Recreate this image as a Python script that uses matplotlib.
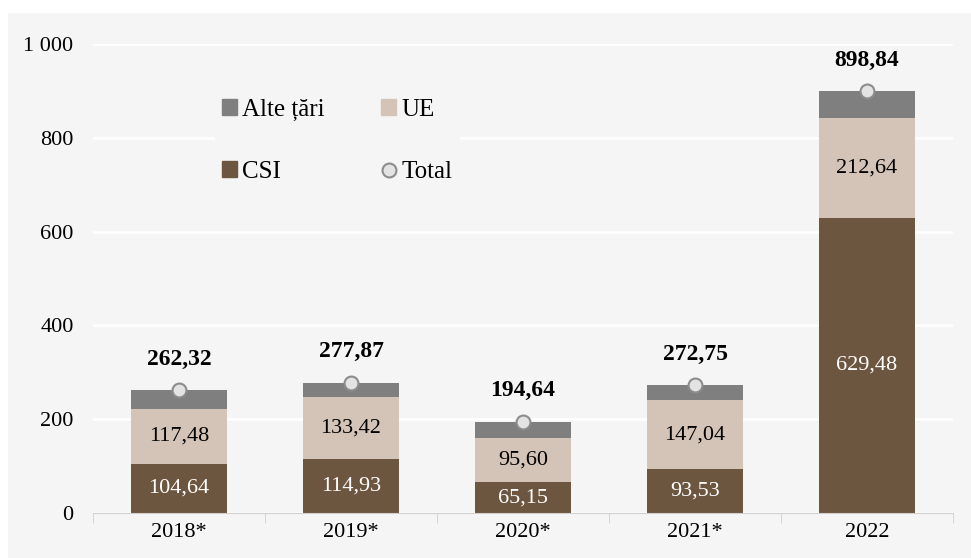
import matplotlib.pyplot as plt
from matplotlib.patches import Rectangle
from matplotlib.lines import Line2D
from matplotlib.ticker import FuncFormatter
import numpy as np

years = ["2018*", "2019*", "2020*", "2021*", "2022"]
csi = [104.64, 114.93, 65.15, 93.53, 629.48]
ue = [117.48, 133.42, 95.60, 147.04, 212.64]
total = [262.32, 277.87, 194.64, 272.75, 898.84]
alte = [t - c - u for t, c, u in zip(total, csi, ue)]

c_csi = "#6d5640"
c_ue = "#d3c4b7"
c_alte = "#7f7f7f"
panel = "#f5f5f5"

plt.rcParams["font.family"] = ["Liberation Serif", "DejaVu Serif"]

fig = plt.figure(figsize=(9.71, 5.58), dpi=100)
fig.patches.append(Rectangle((8 / 971, 0), 1, 1 - 13 / 558, transform=fig.transFigure,
                             facecolor=panel, edgecolor="none", zorder=-10))
ax = fig.add_axes([93 / 971, 45 / 558, 860 / 971, 469 / 558])
ax.set_facecolor(panel)

x = np.arange(len(years))
w = 0.56
ax.bar(x, csi, w, color=c_csi, zorder=3)
ax.bar(x, ue, w, bottom=csi, color=c_ue, zorder=3)
ax.bar(x, alte, w, bottom=np.array(csi) + np.array(ue), color=c_alte, zorder=3)
ax.plot(x, total, "o", ms=10, mfc="#e3e3e3", mec="#8c8c8c", mew=1.5, ls="none", zorder=4)

def fmt(v):
    return f"{v:.2f}".replace(".", ",")

for i in range(len(years)):
    ax.text(x[i], csi[i] / 2, fmt(csi[i]), ha="center", va="center", color="white",
            fontsize=16, zorder=5)
    ax.text(x[i], csi[i] + ue[i] / 2, fmt(ue[i]), ha="center", va="center", color="black",
            fontsize=16, zorder=5)
    ax.text(x[i], total[i] + 66, fmt(total[i]), ha="center", va="center", fontweight="bold",
            fontsize=17, zorder=5,
            bbox=dict(facecolor=panel, edgecolor="none", pad=3))

ax.set_xlim(-0.5, 4.5)
ax.set_ylim(0, 1000)
ax.set_yticks(np.arange(0, 1001, 200))
ax.yaxis.set_major_formatter(FuncFormatter(lambda v, p: f"{int(v):,}".replace(",", " ")))
ax.grid(axis="y", color="white", lw=2, zorder=0)
ax.set_axisbelow(True)
for s in ["top", "right", "left"]:
    ax.spines[s].set_visible(False)
ax.spines["bottom"].set_color("#d0d0d0")
ax.spines["bottom"].set_zorder(6)
ax.tick_params(axis="y", length=0, labelsize=16, pad=14)
ax.set_xticks(x)
ax.set_xticklabels(years)
ax.tick_params(axis="x", length=0, labelsize=16, pad=7)
ax.set_xticks(np.arange(-0.5, 5, 1), minor=True)
ax.tick_params(axis="x", which="minor", length=7, color="#d0d0d0")

handles = [
    Rectangle((0, 0), 1, 1, color=c_alte),
    Rectangle((0, 0), 1, 1, color=c_csi),
    Rectangle((0, 0), 1, 1, color=c_ue),
    Line2D([], [], marker="o", ls="none", ms=10, mfc="#e3e3e3", mec="#8c8c8c", mew=1.5),
]
labels = ["Alte țări", "CSI", "UE", "Total"]
leg = ax.legend(handles, labels, ncol=2, loc="upper left", bbox_to_anchor=(0.127, 0.925),
                frameon=True, facecolor=panel, edgecolor="none", framealpha=1,
                fontsize=18, handlelength=0.6, handleheight=0.6, handletextpad=0.2,
                columnspacing=2.25, labelspacing=1.6, borderpad=0.3)
leg.set_zorder(6)

fig.savefig("out.png", dpi=100)
